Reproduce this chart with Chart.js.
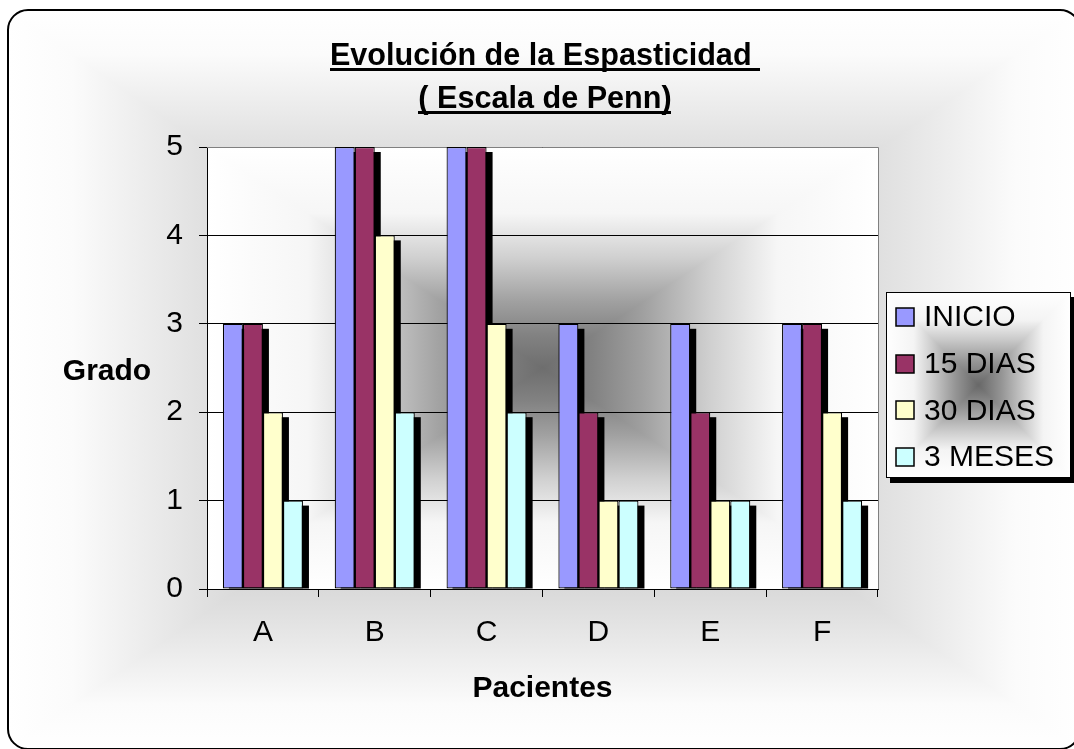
<!DOCTYPE html>
<html>
<head>
<meta charset="utf-8">
<script src="https://cdn.jsdelivr.net/npm/chart.js@4.4.1/dist/chart.umd.min.js"></script>
<style>
  html, body { margin: 0; padding: 0; background: #ffffff; overflow: hidden; }
  #wrap { width: 1074px; height: 749px; position: relative; overflow: hidden; }
  canvas { display: block; }
</style>
</head>
<body>
<div id="wrap"><canvas id="grafico" width="1074" height="749"></canvas></div>
<script>
// Datos: grado de espasticidad (escala de Penn) por paciente y control
const pacientes = ['A', 'B', 'C', 'D', 'E', 'F'];
const inicio    = [3, 5, 5, 3, 3, 3];
const dias15    = [3, 5, 5, 2, 2, 3];
const dias30    = [2, 4, 3, 1, 1, 2];
const meses3    = [1, 2, 2, 1, 1, 1];
const serieNombres = ['INICIO', '15 DIAS', '30 DIAS', '3 MESES'];
const gradoTicks = [0, 1, 2, 3, 4, 5];
const tituloLineas = ['Evolución de la Espasticidad ', '( Escala de Penn)'];
const ejeY = 'Grado';
const ejeX = 'Pacientes';

const FONT = '"Liberation Sans", Arial, Helvetica, sans-serif';
const colores = ['#9999FF', '#993366', '#FFFFCC', '#CCFFFF'];

// Perfiles de degradado: posición desde el borde (0) hasta el centro (1)
const perfilGrafico = [[0, '#ffffff'], [0.12, '#fbfbfb'], [0.35, '#e2e2e2'], [0.6, '#c8c8c8'], [1, '#aaaaaa']];
const perfilTrazado = [[0, '#ffffff'], [0.3, '#f6f6f6'], [0.5, '#d0d0d0'], [0.7, '#a0a0a0'], [0.85, '#828282'], [1, '#6e6e6e']];
const perfilLeyenda = [[0, '#ffffff'], [0.3, '#f4f4f4'], [0.5, '#cccccc'], [0.75, '#959595'], [1, '#686868']];

// Relleno degradado "desde el centro" (rectangular)
function rellenoCentro(ctx, x, y, w, h, perfil) {
  const cx = x + w / 2, cy = y + h / 2;
  const paradas = (g) => {
    perfil.forEach(([t, c]) => { g.addColorStop(t / 2, c); g.addColorStop(1 - t / 2, c); });
  };
  ctx.save();
  let g = ctx.createLinearGradient(0, y, 0, y + h);
  paradas(g);
  ctx.fillStyle = g;
  ctx.fillRect(x, y, w, h);
  ctx.beginPath();
  ctx.moveTo(x, y); ctx.lineTo(cx, cy); ctx.lineTo(x, y + h); ctx.closePath();
  ctx.moveTo(x + w, y); ctx.lineTo(cx, cy); ctx.lineTo(x + w, y + h); ctx.closePath();
  ctx.clip();
  g = ctx.createLinearGradient(x, 0, x + w, 0);
  paradas(g);
  ctx.fillStyle = g;
  ctx.fillRect(x, y, w, h);
  ctx.restore();
}

function rectRedondeado(ctx, x, y, w, h, r) {
  ctx.beginPath();
  ctx.moveTo(x + r, y);
  ctx.lineTo(x + w - r, y);
  ctx.arcTo(x + w, y, x + w, y + r, r);
  ctx.lineTo(x + w, y + h - r);
  ctx.arcTo(x + w, y + h, x + w - r, y + h, r);
  ctx.lineTo(x + r, y + h);
  ctx.arcTo(x, y + h, x, y + h - r, r);
  ctx.lineTo(x, y + r);
  ctx.arcTo(x, y, x + r, y, r);
  ctx.closePath();
}

// Marco del gráfico: sobrepasa por la derecha el borde del lienzo
const MARCO = { x: 8, y: 10, w: 1072, h: 739, r: 20 };

// Fondo del gráfico, marco redondeado y fondo del área de trazado
const fondo = {
  id: 'fondo',
  beforeDraw(chart) {
    const ctx = chart.ctx, a = chart.chartArea;
    ctx.save();
    rectRedondeado(ctx, MARCO.x, MARCO.y, MARCO.w, MARCO.h, MARCO.r);
    ctx.clip();
    rellenoCentro(ctx, MARCO.x, MARCO.y, MARCO.w, MARCO.h, perfilGrafico);
    ctx.restore();
    ctx.save();
    rectRedondeado(ctx, MARCO.x, MARCO.y, MARCO.w, MARCO.h, MARCO.r);
    ctx.lineWidth = 2;
    ctx.strokeStyle = '#000000';
    ctx.stroke();
    ctx.restore();
    rellenoCentro(ctx, a.left, a.top, a.right - a.left, a.bottom - a.top, perfilTrazado);
  }
};

// Sombras negras de las barras y borde gris del área de trazado
const sombras = {
  id: 'sombras',
  beforeDatasetsDraw(chart) {
    const ctx = chart.ctx, a = chart.chartArea;
    ctx.save();
    ctx.strokeStyle = '#808080';
    ctx.lineWidth = 1;
    ctx.beginPath();
    ctx.moveTo(a.left, Math.round(a.top) + 0.5);
    ctx.lineTo(Math.round(a.right) + 0.5, Math.round(a.top) + 0.5);
    ctx.lineTo(Math.round(a.right) + 0.5, a.bottom);
    ctx.stroke();
    ctx.beginPath();
    ctx.rect(a.left, a.top, a.right - a.left, a.bottom - a.top);
    ctx.clip();
    ctx.fillStyle = '#000000';
    chart.data.datasets.forEach((ds, i) => {
      chart.getDatasetMeta(i).data.forEach(bar => {
        const p = bar.getProps(['x', 'y', 'base', 'width'], true);
        ctx.fillRect(p.x - p.width / 2 + 6, p.y + 5, p.width, p.base - p.y - 5);
      });
    });
    ctx.restore();
  }
};

// Título subrayado, rótulo del eje vertical y leyenda
const textos = {
  id: 'textos',
  afterDraw(chart) {
    const ctx = chart.ctx;
    ctx.save();
    ctx.fillStyle = '#000000';
    ctx.font = 'bold 30.6px ' + FONT;
    ctx.textAlign = 'center';
    ctx.textBaseline = 'alphabetic';
    const cxTitulo = 545;
    const bases = [65, 108];
    tituloLineas.forEach((t, i) => {
      ctx.fillText(t, cxTitulo, bases[i]);
      const w = ctx.measureText(t).width;
      ctx.fillRect(Math.round(cxTitulo - w / 2), bases[i] + 3, Math.round(w), 3);
    });
    ctx.font = 'bold 30px ' + FONT;
    ctx.fillText(ejeY, 107, 380);

    // leyenda
    const lx = 886, ly = 292, lw = 185, lh = 186;
    ctx.fillStyle = '#000000';
    ctx.fillRect(lx + 4, ly + 5, lw, lh);
    rellenoCentro(ctx, lx, ly, lw, lh, perfilLeyenda);
    ctx.lineWidth = 1;
    ctx.strokeStyle = '#000000';
    ctx.strokeRect(lx + 0.5, ly + 0.5, lw - 1, lh - 1);
    ctx.font = '30px ' + FONT;
    ctx.textAlign = 'left';
    ctx.textBaseline = 'middle';
    chart.data.datasets.forEach((ds, i) => {
      const yc = 317 + i * 46.7;
      ctx.fillStyle = ds.backgroundColor;
      ctx.fillRect(896, Math.round(yc - 9), 18, 18);
      ctx.lineWidth = 1.5;
      ctx.strokeRect(896, Math.round(yc - 9), 18, 18);
      ctx.fillStyle = '#000000';
      ctx.fillText(ds.label, 924, yc + 1);
    });
    ctx.restore();
  }
};

const series = [inicio, dias15, dias30, meses3];

new Chart(document.getElementById('grafico'), {
  type: 'bar',
  data: {
    labels: pacientes,
    datasets: series.map((valores, i) => ({
      label: serieNombres[i],
      data: valores,
      backgroundColor: colores[i],
      borderColor: '#000000',
      borderWidth: 1.2,
      borderSkipped: false
    }))
  },
  options: {
    responsive: false,
    animation: false,
    devicePixelRatio: 1,
    layout: { padding: { left: 0, top: 147, right: 196, bottom: 42 } },
    datasets: { bar: { categoryPercentage: 0.716, barPercentage: 1 } },
    plugins: {
      legend: { display: false },
      title: { display: false },
      tooltip: { enabled: false }
    },
    scales: {
      x: {
        offset: true,
        grid: { display: true, drawOnChartArea: false, drawTicks: true, tickLength: 8, color: '#000000', offset: true },
        border: { display: true, color: '#000000', width: 1 },
        ticks: { color: '#000000', font: { family: FONT, size: 30 }, padding: 18 },
        title: {
          display: true, text: ejeX, color: '#000000',
          font: { family: FONT, size: 30, weight: 'bold' },
          padding: { top: 0, bottom: 0 }
        },
        afterFit(s) { s.height = 118; }
      },
      y: {
        min: 0, max: 5,
        afterBuildTicks(s) { s.ticks = gradoTicks.map(v => ({ value: v })); },
        grid: { color: '#000000', tickLength: 8, drawTicks: true, lineWidth: 1 },
        border: { display: true, color: '#000000', width: 1 },
        ticks: { color: '#000000', font: { family: FONT, size: 30 }, padding: 16 },
        afterFit(s) { s.width = 207; }
      }
    }
  },
  plugins: [fondo, sombras, textos]
});
</script>
</body>
</html>
